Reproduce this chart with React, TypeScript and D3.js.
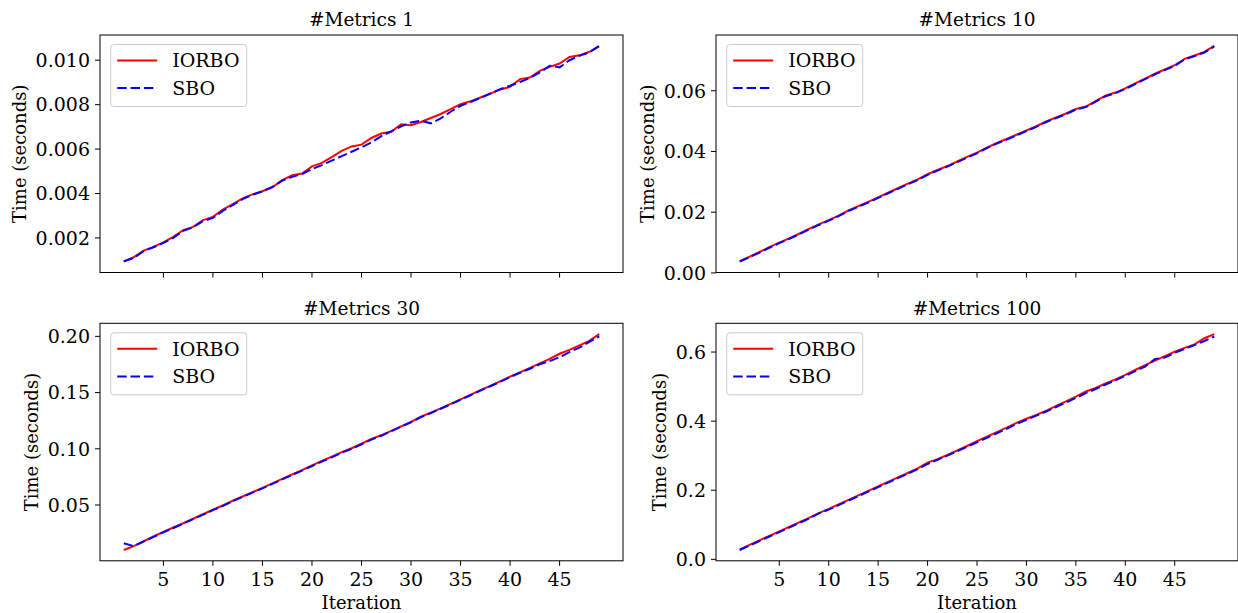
import React from "react";
import * as d3 from "d3";

const iterations: number[] = Array.from({ length: 49 }, (_, i) => i + 1);
const xTicks = [5, 10, 15, 20, 25, 30, 35, 40, 45];

const titles = ["#Metrics 1", "#Metrics 10", "#Metrics 30", "#Metrics 100"];
const seriesNames = ["IORBO", "SBO"];

const iorbo1 = [0.00093, 0.00113, 0.00143, 0.0016, 0.0018, 0.00205, 0.00235, 0.0025, 0.0028, 0.00295,
  0.00328, 0.00352, 0.00378, 0.00396, 0.0041, 0.00428, 0.0046, 0.00482, 0.0049, 0.00522,
  0.00538, 0.00564, 0.00592, 0.00612, 0.0062, 0.0065, 0.0067, 0.00678, 0.00712, 0.00707,
  0.00722, 0.0074, 0.00758, 0.0078, 0.00802, 0.00815, 0.00832, 0.0085, 0.00868, 0.0088,
  0.00915, 0.00922, 0.00952, 0.0097, 0.00985, 0.01015, 0.01022, 0.01038, 0.01062];
const sbo1 = [0.00095, 0.0011, 0.0014, 0.00158, 0.00178, 0.002, 0.00232, 0.00248, 0.00276, 0.0029,
  0.00322, 0.00348, 0.00375, 0.00395, 0.0041, 0.0043, 0.00458, 0.00475, 0.00488, 0.0051,
  0.00528, 0.00548, 0.00568, 0.00588, 0.00608, 0.0063, 0.00658, 0.0068, 0.00702, 0.0072,
  0.00728, 0.00716, 0.00738, 0.00768, 0.00795, 0.00812, 0.0083, 0.0085, 0.0087, 0.00885,
  0.00902, 0.0092, 0.00945, 0.00975, 0.00968, 0.01, 0.0102, 0.01035, 0.01065];

const iorbo10 = [0.0039, 0.0054, 0.0069, 0.0085, 0.01, 0.0114, 0.0129, 0.0145, 0.016, 0.0174,
  0.0189, 0.0206, 0.022, 0.0234, 0.0249, 0.0264, 0.0279, 0.0294, 0.0308, 0.0325,
  0.0339, 0.0352, 0.0367, 0.0382, 0.0396, 0.0413, 0.0428, 0.0441, 0.0455, 0.0469,
  0.0483, 0.0499, 0.0512, 0.0525, 0.054, 0.0548, 0.0566, 0.0584, 0.0594, 0.0608,
  0.0624, 0.064, 0.0656, 0.067, 0.0684, 0.0705, 0.0716, 0.0728, 0.0748];
const sbo10 = [0.0037, 0.0052, 0.0067, 0.0083, 0.0098, 0.0112, 0.0127, 0.0143, 0.0158, 0.0172,
  0.0187, 0.0204, 0.0218, 0.0232, 0.0247, 0.0262, 0.0277, 0.0292, 0.0306, 0.0323,
  0.0337, 0.035, 0.0365, 0.038, 0.0394, 0.0411, 0.0426, 0.0439, 0.0453, 0.0467,
  0.0481, 0.0497, 0.051, 0.0523, 0.0538, 0.0546, 0.0564, 0.0582, 0.0592, 0.0606,
  0.0622, 0.0638, 0.0654, 0.0668, 0.0682, 0.0703, 0.0714, 0.0726, 0.0746];

const iorbo30 = [0.01, 0.0135, 0.0178, 0.022, 0.0262, 0.03, 0.0338, 0.0378, 0.0418, 0.0458,
  0.0496, 0.0538, 0.0576, 0.0614, 0.0652, 0.0692, 0.0732, 0.0772, 0.081, 0.0852,
  0.0892, 0.093, 0.097, 0.1005, 0.1045, 0.1088, 0.112, 0.116, 0.12, 0.124,
  0.1285, 0.1322, 0.136, 0.14, 0.144, 0.148, 0.1522, 0.156, 0.16, 0.1642,
  0.168, 0.172, 0.176, 0.18, 0.1845, 0.188, 0.192, 0.196, 0.202];
const sbo30 = [0.016, 0.0135, 0.0175, 0.0216, 0.0258, 0.0296, 0.0334, 0.0374, 0.0414, 0.0454,
  0.0492, 0.0534, 0.0572, 0.061, 0.0648, 0.0688, 0.0728, 0.0768, 0.0806, 0.0846,
  0.0886, 0.0924, 0.0964, 0.1, 0.104, 0.1082, 0.1116, 0.1156, 0.1196, 0.1236,
  0.1282, 0.1318, 0.1356, 0.1396, 0.1436, 0.1476, 0.1518, 0.1556, 0.1596, 0.1638,
  0.1676, 0.1712, 0.1752, 0.178, 0.1815, 0.186, 0.19, 0.195, 0.2];

const iorbo100 = [0.029, 0.042, 0.055, 0.068, 0.081, 0.094, 0.107, 0.12, 0.134, 0.146,
  0.159, 0.172, 0.185, 0.198, 0.211, 0.224, 0.237, 0.25, 0.263, 0.28,
  0.29, 0.302, 0.315, 0.328, 0.342, 0.355, 0.368, 0.381, 0.395, 0.407,
  0.418, 0.43, 0.444, 0.457, 0.471, 0.486, 0.496, 0.509, 0.521, 0.534,
  0.548, 0.562, 0.575, 0.588, 0.601, 0.612, 0.622, 0.64, 0.652];
const sbo100 = [0.027, 0.04, 0.053, 0.066, 0.079, 0.092, 0.105, 0.118, 0.133, 0.144,
  0.157, 0.17, 0.183, 0.196, 0.209, 0.222, 0.235, 0.248, 0.261, 0.276,
  0.288, 0.3, 0.313, 0.326, 0.339, 0.352, 0.365, 0.378, 0.392, 0.404,
  0.416, 0.428, 0.441, 0.454, 0.467, 0.481, 0.493, 0.506, 0.518, 0.531,
  0.545, 0.558, 0.58, 0.584, 0.598, 0.609, 0.62, 0.632, 0.645];

const yTicks1 = [0.002, 0.004, 0.006, 0.008, 0.01];
const yTicks10 = [0.0, 0.02, 0.04, 0.06];
const yTicks30 = [0.05, 0.1, 0.15, 0.2];
const yTicks100 = [0.0, 0.2, 0.4, 0.6];
const yDecimals = [3, 2, 2, 1];

const panelsIorbo = [iorbo1, iorbo10, iorbo30, iorbo100];
const panelsSbo = [sbo1, sbo10, sbo30, sbo100];
const panelsYTicks = [yTicks1, yTicks10, yTicks30, yTicks100];

const FONT = "'DejaVu Serif', serif";
const colLeft = [100, 716];
const colRight = [623, 1238];
const rowTop = [35, 323.3];
const rowBottom = [272.5, 560.8];
const yLabelX = [[26, 654], [38, 666]];

function Panel({ idx }: { idx: number }) {
  const row = Math.floor(idx / 2);
  const col = idx % 2;
  const L = colLeft[col], R = colRight[col], T = rowTop[row], B = rowBottom[row];
  const a = panelsIorbo[idx], b = panelsSbo[idx];
  const all = a.concat(b);
  const mn = d3.min(all)!, mx = d3.max(all)!;
  const pad = (mx - mn) * 0.05;
  const x = d3.scaleLinear().domain([1 - 2.4, 49 + 2.4]).range([L, R]);
  const y = d3.scaleLinear().domain([mn - pad, mx + pad]).range([B, T]);
  const line = d3.line<number>().x((_, i) => x(iterations[i])).y((d) => y(d));
  const fmt = d3.format(`.${yDecimals[idx]}f`);
  const showX = row === 1;
  const cx = (L + R) / 2;
  return (
    <g>
      <defs>
        <clipPath id={`clip${idx}`}>
          <rect x={L} y={T} width={R - L} height={B - T} />
        </clipPath>
      </defs>
      <g clipPath={`url(#clip${idx})`}>
        <path d={line(a)!} fill="none" stroke="#ff0000" strokeWidth={2} />
        <path d={line(b)!} fill="none" stroke="#0000ff" strokeWidth={2} strokeDasharray="9.5,3.8" />
      </g>
      <rect x={L} y={T} width={R - L} height={B - T} fill="none" stroke="#000" strokeWidth={1} />
      {xTicks.map((t) => (
        <g key={t}>
          <line x1={x(t)} x2={x(t)} y1={B} y2={B + 5} stroke="#000" strokeWidth={1} />
          {showX && (
            <text x={x(t)} y={B + 25} textAnchor="middle" fontFamily={FONT} fontSize={19}>{t}</text>
          )}
        </g>
      ))}
      {panelsYTicks[idx].map((t) => (
        <g key={t}>
          <line x1={L - 5} x2={L} y1={y(t)} y2={y(t)} stroke="#000" strokeWidth={1} />
          <text x={L - 10} y={y(t)} dy="0.36em" textAnchor="end" fontFamily={FONT} fontSize={19}>{fmt(t)}</text>
        </g>
      ))}
      <text x={cx} y={row === 0 ? 26 : 315} textAnchor="middle" fontFamily={FONT} fontSize={18.5}>{titles[idx]}</text>
      <text transform={`translate(${yLabelX[row][col]},${(T + B) / 2}) rotate(-90)`} textAnchor="middle" fontFamily={FONT} fontSize={18}>Time (seconds)</text>
      {showX && (
        <text x={cx} y={609} textAnchor="middle" fontFamily={FONT} fontSize={18}>Iteration</text>
      )}
      <g transform={`translate(${L + 10.7},${T + 9.5})`}>
        <rect x={0} y={0} width={136} height={62} rx={3} fill="#fff" fillOpacity={0.8} stroke="#cccccc" strokeWidth={1} />
        {seriesNames.map((s, i) => (
          <g key={s} transform={`translate(0,${16 + i * 27.6})`}>
            <line x1={6.5} x2={46.5} y1={0} y2={0} stroke={i === 0 ? "#ff0000" : "#0000ff"} strokeWidth={2} strokeDasharray={i === 0 ? undefined : "9.5,3.8"} />
            <text x={61.5} y={0} dy="0.36em" fontFamily={FONT} fontSize={19}>{s}</text>
          </g>
        ))}
      </g>
    </g>
  );
}

export default function App() {
  return (
    <svg width={1238} height={613} style={{ position: "absolute", left: 0, top: 0, background: "#fff" }}>
      {[0, 1, 2, 3].map((i) => <Panel key={i} idx={i} />)}
    </svg>
  );
}
